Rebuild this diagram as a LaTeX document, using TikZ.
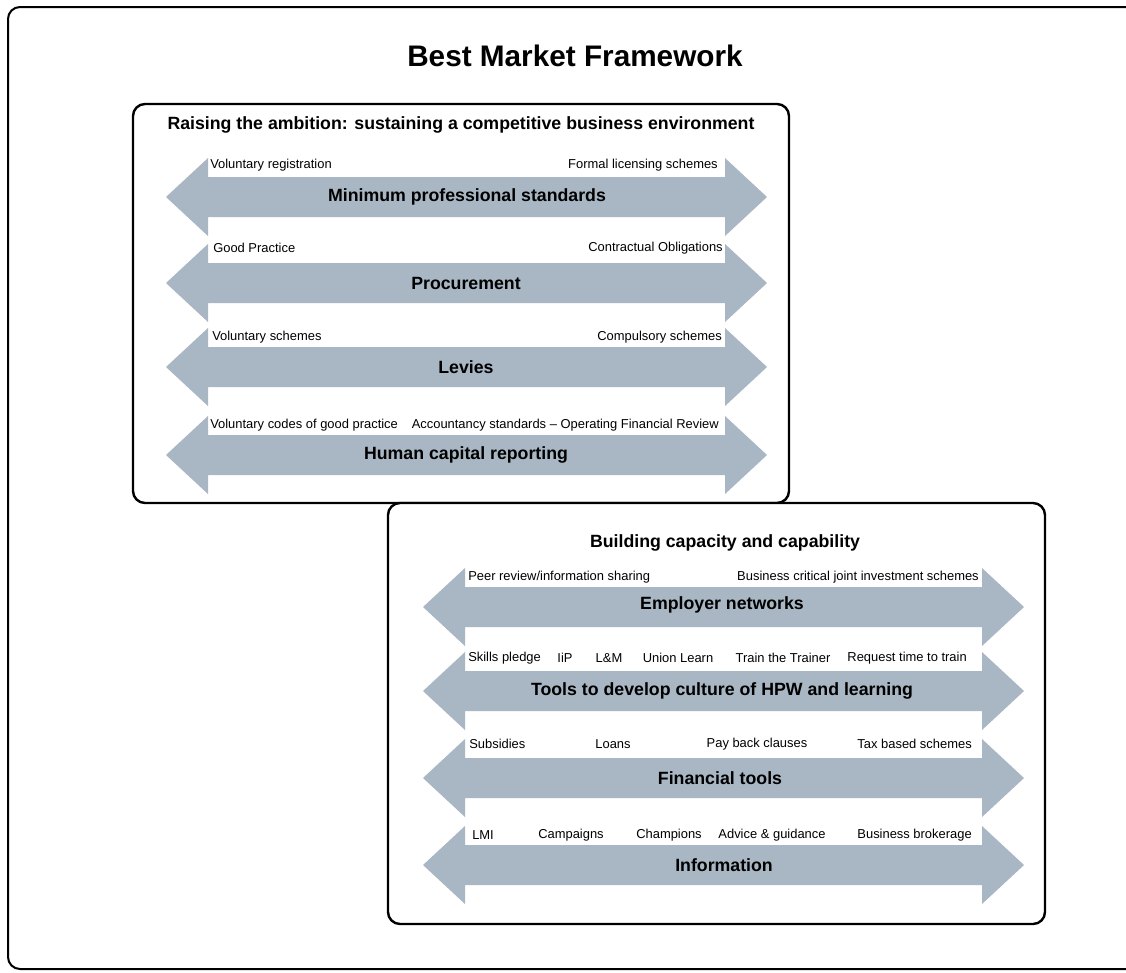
\documentclass[tikz,border=0pt]{standalone}
\usepackage{fontspec}
\setmainfont{Liberation Sans}
\definecolor{bandgray}{RGB}{168,183,195}
\tikzset{
  band/.style={fill=bandgray},
  panel/.style={draw,line width=1.8pt,rounded corners=9pt,fill=white},
  lbl/.style={font=\fontsize{9.7}{11}\selectfont,inner sep=0pt},
  bandtitle/.style={font=\fontsize{13.3}{15}\selectfont\bfseries,inner sep=0pt},
}
\begin{document}
\begin{tikzpicture}[x=0.75pt,y=-0.75pt]
\useasboundingbox (0,0) rectangle (1126,972);
\draw[line width=1.5pt,rounded corners=9pt] (8,7) rectangle (1150,969);
\node[font=\fontsize{22.3}{26}\selectfont\bfseries,inner sep=0pt] (title) at (575,56) {Best Market Framework};

\draw[panel] (133,104) rectangle (789,503);
\node[bandtitle] (ambition) at (461,125) {Raising the ambition: sustaining a competitive business environment};
\foreach \y in {197,283,367,455}
  \fill[band] (166,\y) -- (208,\y-39) -- (208,\y-20) -- (725,\y-20) -- (725,\y-39) -- (767,\y)
    -- (725,\y+39) -- (725,\y+20) -- (208,\y+20) -- (208,\y+39) -- cycle;
\node[bandtitle] (standards) at (467,197) {Minimum professional standards};
\node[bandtitle] (procurement) at (466,283) {Procurement};
\node[bandtitle] (levies) at (466,367) {Levies};
\node[bandtitle] (reporting) at (466,455) {Human capital reporting};
\node[lbl,anchor=west] (registration) at (210,165) {Voluntary registration};
\node[lbl,anchor=east] (licensing) at (718,165) {Formal licensing schemes};
\node[lbl,anchor=west] (goodpractice) at (213,248) {Good Practice};
\node[lbl,anchor=east] (obligations) at (723,248) {Contractual Obligations};
\node[lbl,anchor=west] (volschemes) at (212,337) {Voluntary schemes};
\node[lbl,anchor=east] (compschemes) at (722,337) {Compulsory schemes};
\node[lbl,anchor=west] (codes) at (210,425) {Voluntary codes of good practice};
\node[lbl,anchor=east] (accountancy) at (719,425) {Accountancy standards -- Operating Financial Review};

\draw[panel] (388,503) rectangle (1045,924);
\node[bandtitle] (capacity) at (725,543) {Building capacity and capability};
\foreach \y in {607,691,778,865}
  \fill[band] (423,\y) -- (465,\y-39) -- (465,\y-20) -- (982,\y-20) -- (982,\y-39) -- (1024,\y)
    -- (982,\y+39) -- (982,\y+20) -- (465,\y+20) -- (465,\y+39) -- cycle;
\node[bandtitle] (networks) at (722,605) {Employer networks};
\node[bandtitle] (culture) at (722,691) {Tools to develop culture of HPW and learning};
\node[bandtitle] (financial) at (720,778) {Financial tools};
\node[bandtitle] (information) at (724,865) {Information};
\node[lbl,anchor=west] (peer) at (468,577) {Peer review/information sharing};
\node[lbl,anchor=east] (joint) at (979,577) {Business critical joint investment schemes};
\node[lbl,anchor=west] (pledge) at (468,658) {Skills pledge};
\node[lbl] (iip) at (565,658) {IiP};
\node[lbl] (lm) at (609,658) {L\&M};
\node[lbl] (union) at (678,658) {Union Learn};
\node[lbl] (trainer) at (783,658) {Train the Trainer};
\node[lbl,anchor=east] (request) at (967,658) {Request time to train};
\node[lbl,anchor=west] (subsidies) at (469,744) {Subsidies};
\node[lbl] (loans) at (613,744) {Loans};
\node[lbl] (payback) at (757,744) {Pay back clauses};
\node[lbl,anchor=east] (tax) at (972,744) {Tax based schemes};
\node[lbl,anchor=west] (lmi) at (472,835) {LMI};
\node[lbl] (campaigns) at (571,835) {Campaigns};
\node[lbl] (champions) at (669,835) {Champions};
\node[lbl] (advice) at (772,835) {Advice \& guidance};
\node[lbl,anchor=east] (brokerage) at (972,835) {Business brokerage};
\end{tikzpicture}
\end{document}
